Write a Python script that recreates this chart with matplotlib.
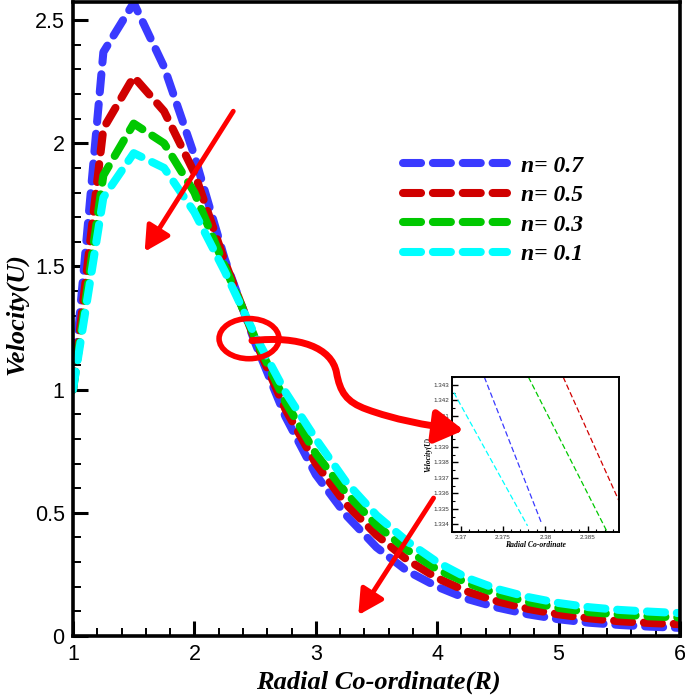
import matplotlib
matplotlib.use("Agg")
import numpy as np
import matplotlib.pyplot as plt
from matplotlib.patches import Ellipse, FancyArrowPatch
from matplotlib.path import Path
from matplotlib.ticker import MultipleLocator

plt.rcParams["font.family"] = ["Liberation Sans", "DejaVu Sans"]
plt.rcParams["lines.scale_dashes"] = False

# values
radius = [1.0, 1.25, 1.5, 1.75, 2.0, 2.25, 2.5, 2.75, 3.0, 3.25, 3.5,
          3.75, 4.0, 4.25, 4.5, 4.75, 5.0, 5.25, 5.5, 5.75, 6.0]
u_n07 = [1.0, 2.37, 2.57, 2.31, 1.95, 1.53, 1.19, 0.89, 0.655, 0.49, 0.36,
         0.265, 0.2, 0.15, 0.115, 0.088, 0.068, 0.054, 0.045, 0.038, 0.033]
u_n05 = [1.0, 2.06, 2.27, 2.13, 1.88, 1.52, 1.2, 0.92, 0.7, 0.535, 0.41,
         0.31, 0.235, 0.18, 0.14, 0.11, 0.088, 0.072, 0.06, 0.053, 0.048]
u_n03 = [1.0, 1.87, 2.08, 2.0, 1.8, 1.5, 1.21, 0.95, 0.74, 0.58, 0.45,
         0.35, 0.27, 0.215, 0.17, 0.138, 0.114, 0.097, 0.087, 0.08, 0.075]
u_n01 = [1.0, 1.78, 1.96, 1.9, 1.72, 1.48, 1.22, 0.99, 0.8, 0.625, 0.49,
         0.385, 0.3, 0.235, 0.19, 0.158, 0.134, 0.117, 0.106, 0.099, 0.093]

labels = ["n= 0.7", "n= 0.5", "n= 0.3", "n= 0.1"]
colors = ["#3a3aff", "#d00000", "#00c800", "#00ffff"]

# zoomed window (inset) - segment end points
zoom_r = {"n07": [2.3728, 2.3796], "n05": [2.3821, 2.3891],
          "n03": [2.3780, 2.3873], "n01": [2.3692, 2.3779]}
zoom_u = {"n07": [1.3435, 1.3340], "n05": [1.3435, 1.3350],
          "n03": [1.3435, 1.3335], "n01": [1.3425, 1.3339]}

xticks = [1, 2, 3, 4, 5, 6]
yticks = [0, 0.5, 1, 1.5, 2, 2.5]
ytick_labels = ["0", "0.5", "1", "1.5", "2", "2.5"]

serif = dict(family="Liberation Serif", weight="bold", style="italic")

fig = plt.figure(figsize=(6.85, 7.0), dpi=100)
ax = fig.add_axes([0.1066, 0.0914, 0.8861, 0.9056])

for u, lab, c in zip([u_n07, u_n05, u_n03, u_n01], labels, colors):
    ax.plot(radius, u, color=c, lw=5.8, dashes=(13, 8.5),
            dash_capstyle="round", label=lab)

ax.set_xlim(1, 6)
ax.set_ylim(0, 2.573)
ax.set_xticks(xticks)
ax.set_xticklabels([str(t) for t in xticks])
ax.set_yticks(yticks)
ax.set_yticklabels(ytick_labels)
ax.xaxis.set_minor_locator(MultipleLocator(0.2))
ax.yaxis.set_minor_locator(MultipleLocator(0.1))
ax.tick_params(which="major", direction="in", length=11, width=2.2,
               labelsize=15.5, pad=6)
ax.tick_params(which="minor", direction="in", length=5.5, width=1.4)
for s in ax.spines.values():
    s.set_linewidth(2.6)

fig.text(0.025, 1 - 314 / 700, "Velocity(U)", rotation=90, ha="center",
         va="center", fontsize=19, **serif)
fig.text(378 / 685, 1 - 682 / 700, "Radial Co-ordinate(R)", ha="center",
         va="center", fontsize=19, **serif)

ax.legend(loc="upper left", bbox_to_anchor=(403 / 685, 1 - 155 / 700),
          bbox_transform=fig.transFigure, frameon=False, handlelength=4.4,
          prop=dict(size=17, **serif), labelspacing=0.34,
          handletextpad=0.6, borderpad=0, borderaxespad=0)

# red arrows
arrow = dict(arrowstyle="-|>,head_length=0.75,head_width=0.4", color="red",
             lw=3.5, mutation_scale=20, shrinkA=0, shrinkB=0)
ax.annotate("", xy=(1.59, 1.56), xytext=(2.32, 2.13), arrowprops=arrow)
ax.annotate("", xy=(3.35, 0.085), xytext=(3.97, 0.56), arrowprops=arrow)

ax.add_patch(Ellipse((2.45, 1.207), 0.494, 0.163, fill=False, ec="red",
                     lw=4, zorder=5))

verts = [(2.474, 1.199),
         (2.87, 1.22), (3.13, 1.17), (3.17, 1.07),
         (3.2, 0.99), (3.25, 0.95), (3.42, 0.92),
         (3.64, 0.88), (3.9, 0.855), (4.22, 0.835)]
codes = [Path.MOVETO] + [Path.CURVE4] * 9
s_arrow = FancyArrowPatch(path=Path(verts, codes),
                          arrowstyle="-|>,head_length=0.85,head_width=0.5",
                          mutation_scale=20, lw=5, color="red",
                          transform=ax.transData, clip_on=False, zorder=6)
fig.add_artist(s_arrow)

# inset
axin = fig.add_axes([0.660, 0.240, 0.2438, 0.2214])
for key, c in zip(["n07", "n05", "n03", "n01"], colors):
    axin.plot(zoom_r[key], zoom_u[key], color=c, lw=0.9, dashes=(4, 2))
axin.set_xlim(2.369, 2.3887)
axin.set_ylim(1.3335, 1.3435)
axin.set_xticks([2.37, 2.375, 2.38, 2.385])
axin.set_xticklabels(["2.37", "2.375", "2.38", "2.385"])
axin.set_yticks([1.334, 1.335, 1.336, 1.337, 1.338, 1.339, 1.340, 1.341,
                 1.342, 1.343])
axin.set_yticklabels(["1.334", "1.335", "1.336", "1.337", "1.338", "1.339",
                      "1.34", "1.341", "1.342", "1.343"])
axin.xaxis.set_minor_locator(MultipleLocator(0.001))
axin.yaxis.set_minor_locator(MultipleLocator(0.0005))
axin.tick_params(which="major", direction="in", length=4, width=1,
                 labelsize=4.5, pad=2, colors="black", labelcolor="#333333")
axin.tick_params(which="minor", direction="in", length=2, width=0.8)
for s in axin.spines.values():
    s.set_linewidth(1.4)
axin.set_xlabel("Radial Co-ordinate", fontsize=5.5, labelpad=1, **serif)
axin.set_ylabel("Velocity(U)", fontsize=5.5, labelpad=1, **serif)

fig.savefig("out.png", dpi=100)
